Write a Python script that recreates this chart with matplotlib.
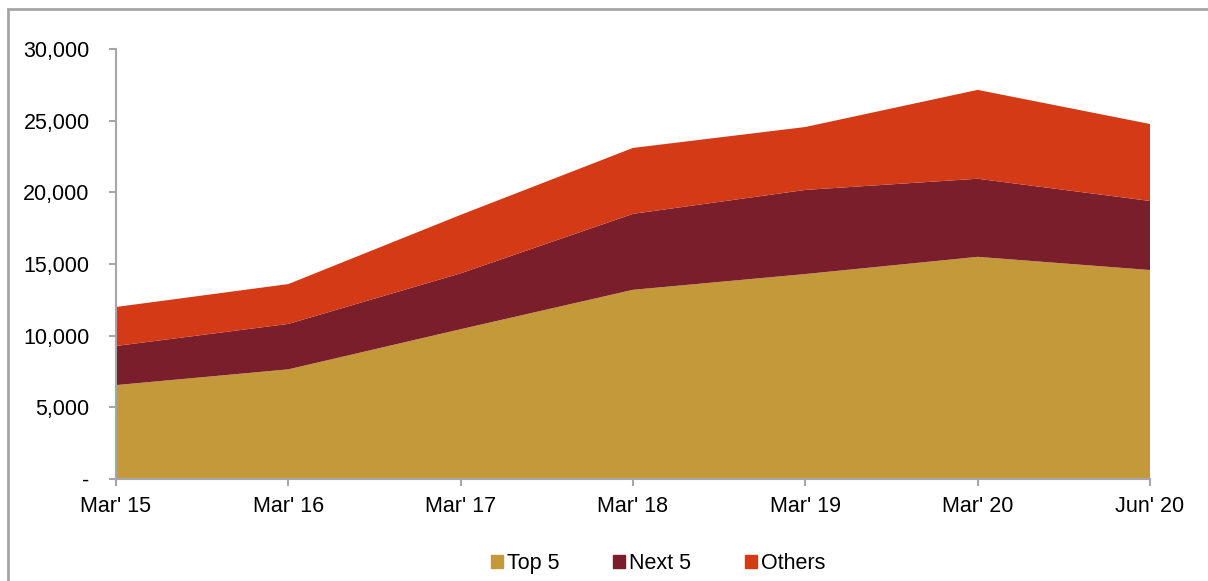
import matplotlib.pyplot as plt
from matplotlib.patches import Patch, Rectangle
from matplotlib.ticker import FuncFormatter

# data
periods = ["Mar' 15", "Mar' 16", "Mar' 17", "Mar' 18", "Mar' 19", "Mar' 20", "Jun' 20"]
top5 = [6550, 7650, 10450, 13200, 14300, 15500, 14580]
next5 = [2730, 3170, 3900, 5300, 5870, 5450, 4820]
others = [2720, 2780, 4080, 4600, 4390, 6200, 5370]

colors = ['#C4993A', '#7B1E2B', '#D43A16']
labels = ['Top 5', 'Next 5', 'Others']

plt.rcParams['font.family'] = ['Liberation Sans', 'DejaVu Sans']
plt.rcParams['font.size'] = 15.5

fig = plt.figure(figsize=(12.08, 5.81), dpi=100)
ax = fig.add_axes([0.096, 0.1756, 0.856, 0.740])

x = range(len(periods))
ax.stackplot(x, top5, next5, others, colors=colors, linewidth=0)

ax.set_xlim(0, len(periods) - 1)
ax.set_ylim(0, 30000)
ax.set_yticks(range(0, 30001, 5000))
ax.yaxis.set_major_formatter(FuncFormatter(lambda v, p: '-' if v == 0 else f'{int(v):,}'))
ax.set_xticks(list(x))
ax.set_xticklabels(periods)

for s in ['top', 'right']:
    ax.spines[s].set_visible(False)
for s in ['left', 'bottom']:
    ax.spines[s].set_color('#A6A6A6')
    ax.spines[s].set_linewidth(1.5)
ax.tick_params(colors='#A6A6A6', labelcolor='black', length=5, width=1.5)
ax.tick_params(axis='y', pad=14)
ax.tick_params(axis='x', pad=7)

# figure border
fig.add_artist(Rectangle((8 / 1208, -0.1), 1.2, 1 - 9 / 581 + 0.1, transform=fig.transFigure,
                         fill=False, edgecolor='#A6A6A6', linewidth=2))

handles = [Patch(color=c) for c in colors]
fig.legend(handles, labels, loc='center', bbox_to_anchor=(0.545, 0.03), ncol=3, frameon=False,
           handlelength=0.55, handleheight=0.55, handletextpad=0.2, columnspacing=2.5, fontsize=15.5)

fig.savefig('out.png', dpi=100)
